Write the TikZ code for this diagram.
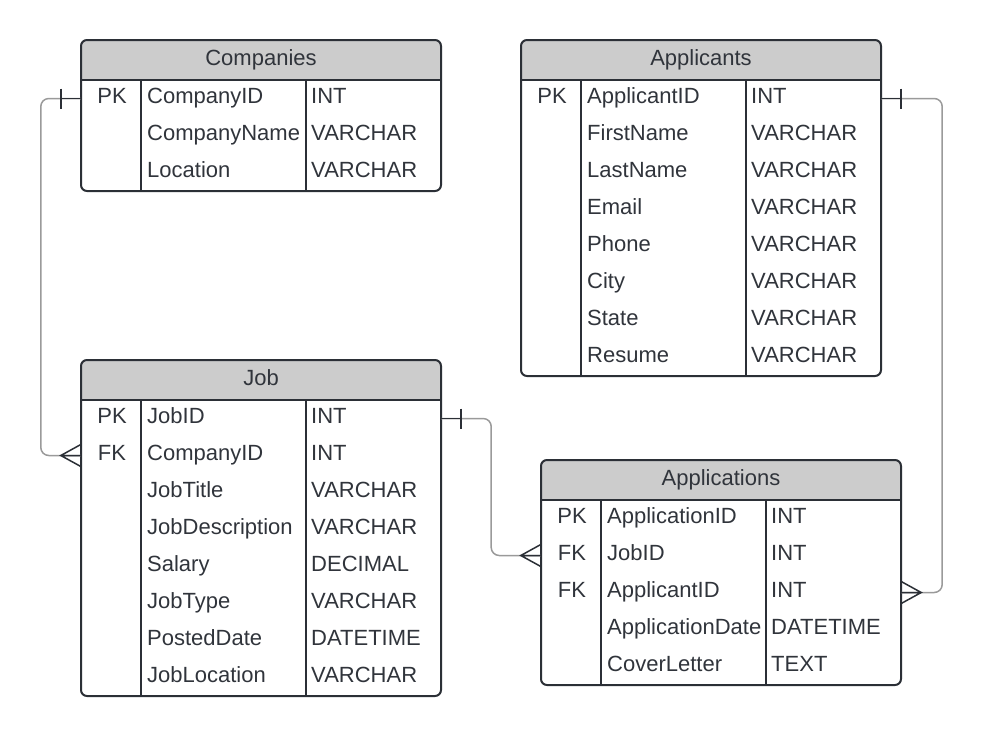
\documentclass[tikz,border=0pt]{standalone}
\usepackage{fontspec}
\setmainfont{Liberation Sans}
\usepackage{tikz}
\usetikzlibrary{positioning}

\definecolor{framecol}{HTML}{2B2F36}
\definecolor{textcol}{HTML}{30343B}
\definecolor{headcol}{HTML}{CCCCCC}
\definecolor{linkcol}{HTML}{9A9A9A}

\begin{document}
\begin{tikzpicture}[x=1pt, y=-1pt]
	% Define styles
	\tikzset{
		frame/.style={draw=framecol, line width=2pt},
		cell/.style={inner sep=0pt, text=textcol, text height=16.5pt, text depth=6pt,
			font=\fontsize{22}{26}\selectfont},
		rowbox/.style={inner sep=0pt, minimum width=360pt, minimum height=37pt},
		link/.style={draw=linkcol, line width=1.5pt, rounded corners=8pt},
		dark/.style={draw=framecol, line width=1.5pt}
	}
	\useasboundingbox (0,0) rectangle (982,736);
	
	% Macro to draw a table: name, title, number of rows, fields
	\def\drawtable#1#2#3#4{
		\pgfmathsetmacro\tbot{40+37*#3}
		\begin{scope}
			\clip[rounded corners=6pt] (0,0) rectangle (360,\tbot);
			\fill[headcol] (0,0) rectangle (360,40);
		\end{scope}
		\draw[frame, rounded corners=6pt] (0,0) rectangle (360,\tbot);
		\draw[frame] (0,40) -- (360,40) (60,40) -- (60,\tbot) (225,40) -- (225,\tbot);
		\node[cell] (#1-title) at (180,20) {#2};
		\foreach \fkey/\fname/\ftype [count=\i] in {#4} {
			\node[rowbox] (#1-\i) at (180,{37*\i+21.5}) {};
			\node[cell] (#1-\i-key) at (31,{37*\i+21.5}) {\fkey};
			\node[cell, anchor=west] (#1-\i-name) at (66,{37*\i+21.5}) {\fname};
			\node[cell, anchor=west] (#1-\i-type) at (230,{37*\i+21.5}) {\ftype};
		}
	}
	
	% Table 1: Companies
	\begin{scope}[shift={(81,40)}]
		\drawtable{companies}{Companies}{3}{PK/CompanyID/INT, /CompanyName/VARCHAR, /Location/VARCHAR}
	\end{scope}
	
	% Table 2: Applicants
	\begin{scope}[shift={(521,40)}]
		\drawtable{applicants}{Applicants}{8}{PK/ApplicantID/INT, /FirstName/VARCHAR, /LastName/VARCHAR,
			/Email/VARCHAR, /Phone/VARCHAR, /City/VARCHAR, /State/VARCHAR, /Resume/VARCHAR}
	\end{scope}
	
	% Table 3: Job
	\begin{scope}[shift={(81,360)}]
		\drawtable{job}{Job}{8}{PK/JobID/INT, FK/CompanyID/INT, /JobTitle/VARCHAR,
			/JobDescription/VARCHAR, /Salary/DECIMAL, /JobType/VARCHAR, /PostedDate/DATETIME, /JobLocation/VARCHAR}
	\end{scope}
	
	% Table 4: Applications
	\begin{scope}[shift={(541,460)}]
		\drawtable{applications}{Applications}{5}{PK/ApplicationID/INT, FK/JobID/INT, FK/ApplicantID/INT,
			/ApplicationDate/DATETIME, /CoverLetter/TEXT}
	\end{scope}
	
	% Relations
	\draw[link] (companies-1.west) -- ++(-40,0) |- (job-2.west);
	\draw[link] (job-1.east) -- ++(50,0) |- (applications-2.west);
	\draw[link] (applicants-1.east) -- ++(61,0) |- (applications-3.east);
	
	% One ends
	\draw[dark] (companies-1.west) -- ++(-20,0) ++(0,-10) -- ++(0,20);
	\draw[dark] (job-1.east) -- ++(20,0) ++(0,-10) -- ++(0,20);
	\draw[dark] (applicants-1.east) -- ++(20,0) ++(0,-10) -- ++(0,20);
	
	% Many ends
	\draw[dark] (job-2.west) ++(0,-11) -- ++(-20,11) -- ++(20,11) (job-2.west) -- ++(-20,0);
	\draw[dark] (applications-2.west) ++(0,-11) -- ++(-20,11) -- ++(20,11) (applications-2.west) -- ++(-20,0);
	\draw[dark] (applications-3.east) ++(0,-11) -- ++(20,11) -- ++(-20,11) (applications-3.east) -- ++(20,0);
\end{tikzpicture}
\end{document}
